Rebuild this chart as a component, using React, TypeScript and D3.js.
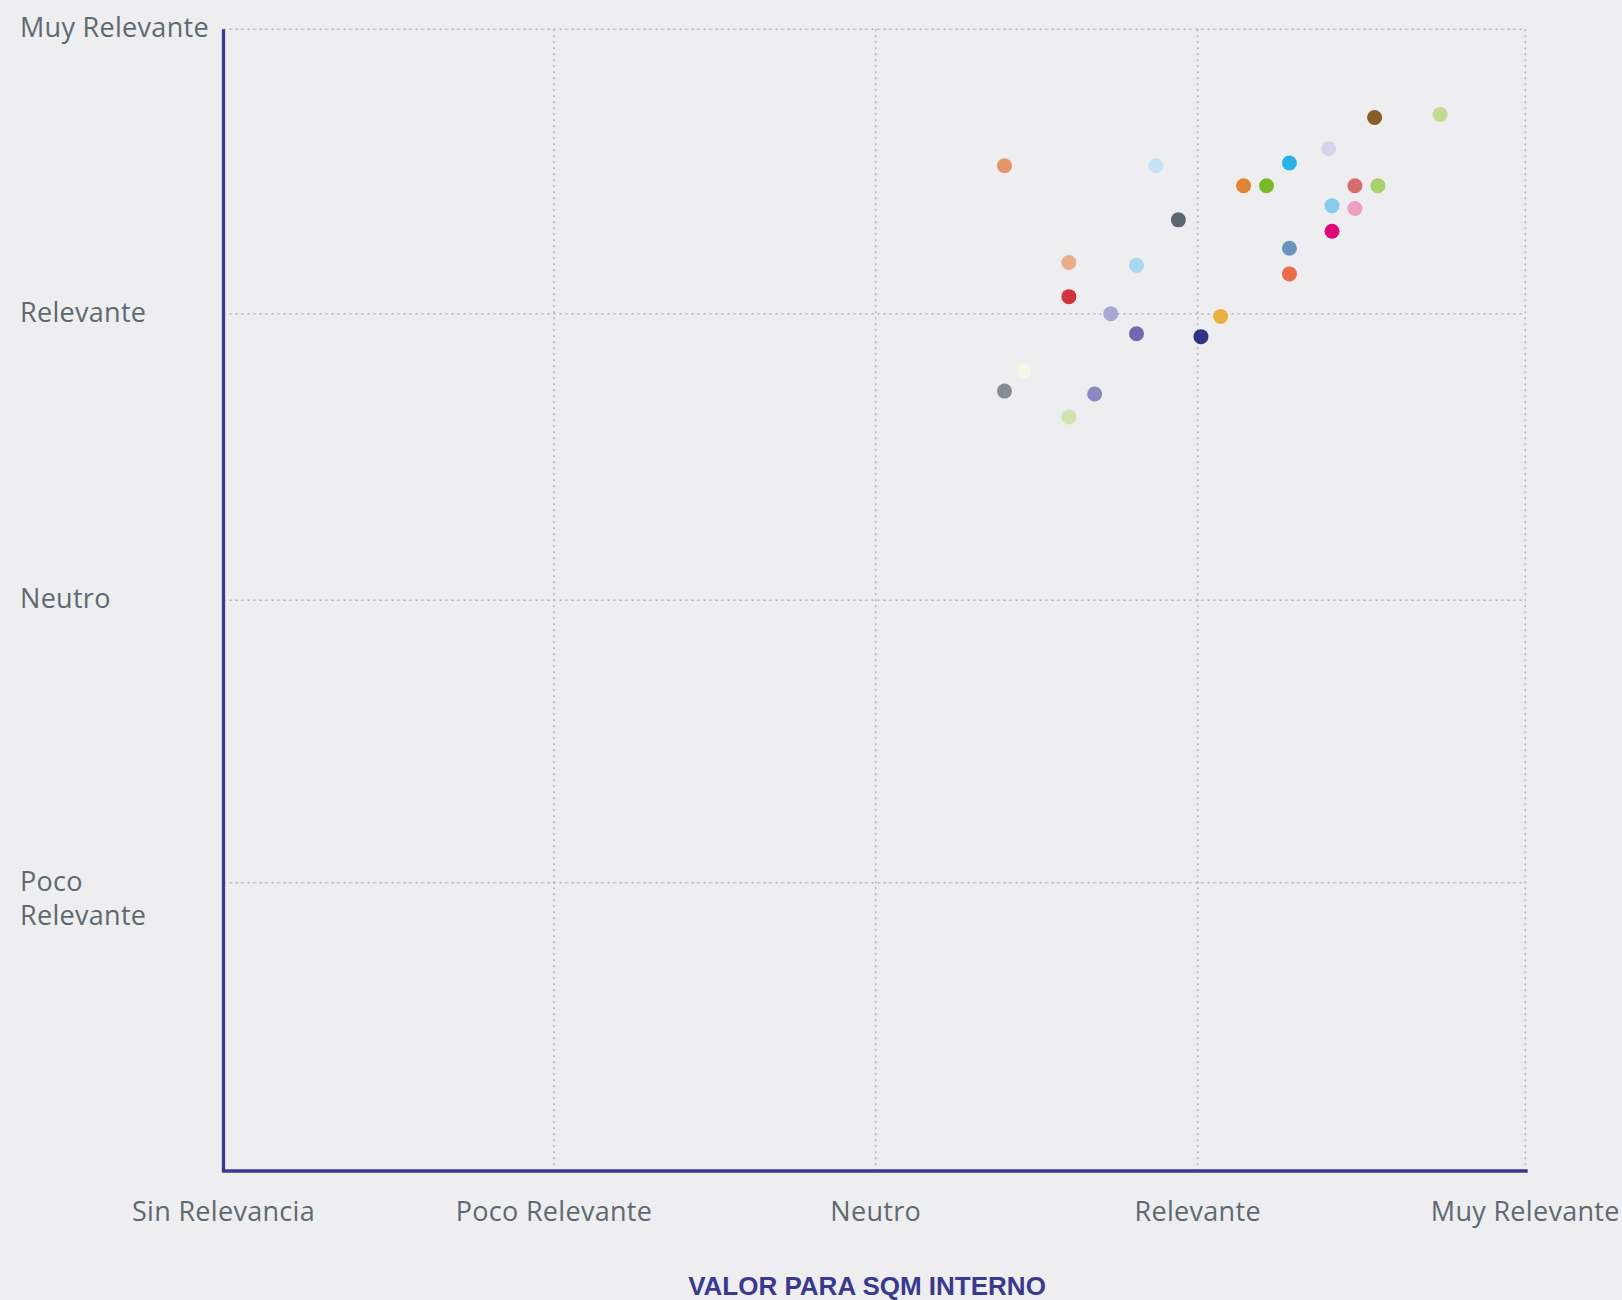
import { FC } from 'react';
import * as d3 from 'd3';

// escala 0..4 en ambos ejes
const xTickLabels = ['Sin Relevancia', 'Poco Relevante', 'Neutro', 'Relevante', 'Muy Relevante'];
const yTickLabels = [[], ['Poco', 'Relevante'], ['Neutro'], ['Relevante'], ['Muy Relevante']];

const xTitle = 'VALOR PARA SQM INTERNO';

// cada punto: valor interno (x), valor externo (y), color
const xValues = [
  2.4, 2.87, 3.14, 3.21, 3.28, 3.4, 3.54, 3.74, 3.48, 3.55, 3.41, 3.48, 3.41, 3.28,
  3.28, 2.94, 2.6, 2.81, 2.6, 2.73, 3.07, 2.81, 3.01, 2.46, 2.4, 2.68, 2.6,
];
const yValues = [
  3.52, 3.52, 3.45, 3.45, 3.53, 3.58, 3.69, 3.7, 3.45, 3.45, 3.38, 3.37, 3.29, 3.23,
  3.14, 3.33, 3.18, 3.17, 3.06, 3.0, 2.99, 2.93, 2.92, 2.8, 2.73, 2.72, 2.64,
];
const pointColors = [
  '#e4956a', '#c5e3f5', '#e08334', '#78b82a', '#29b2e5', '#d6d3ea', '#855e28', '#c2dc94',
  '#d66c6c', '#a9cf6e', '#89cbec', '#ee9fc0', '#dd0a77', '#6a93bb', '#ec6b49', '#5b6670',
  '#e8ae8e', '#a8d8f2', '#d2333c', '#a9a5d5', '#ebb042', '#6f69ae', '#313188', '#f5f7e9',
  '#878c94', '#8b87c2', '#d2e3b1',
];

const W = 1622;
const H = 1300;
const ticks = [0, 1, 2, 3, 4];

const App: FC = () => {
  // las columnas del original no son del todo regulares
  const x = d3.scaleLinear().domain(ticks).range([223.5, 554, 875.7, 1197.7, 1525.3]);
  const y = d3.scaleLinear().domain(ticks).range([1171, 882.7, 600.3, 313.7, 29.3]);
  const axisColor = '#393a8d';
  const labelColor = '#5e6970';
  const font = '"Open Sans", sans-serif';
  const fs = 27;

  return (
    <svg
      width={W}
      height={H}
      style={{ position: 'absolute', left: 0, top: 0, background: '#eeeef0' }}
    >
      {/* grid */}
      {ticks.slice(1).map((t) => (
        <line
          key={'h' + t}
          x1={x(0)}
          x2={x(4)}
          y1={y(t)}
          y2={y(t)}
          stroke="#b3b3b6"
          strokeWidth={1.5}
          strokeDasharray="2,4"
        />
      ))}
      {ticks.slice(1).map((t) => (
        <line
          key={'v' + t}
          x1={x(t)}
          x2={x(t)}
          y1={y(4)}
          y2={y(0)}
          stroke="#b3b3b6"
          strokeWidth={1.5}
          strokeDasharray="2,4"
        />
      ))}

      {/* ejes */}
      <line x1={x(0)} x2={x(0)} y1={y(4)} y2={y(0)} stroke={axisColor} strokeWidth={3.3} />
      <line x1={x(0) - 1.6} x2={x(4) + 2.4} y1={y(0)} y2={y(0)} stroke={axisColor} strokeWidth={3.7} />

      {/* etiquetas eje y */}
      {yTickLabels.map((lines, i) => (
        <text
          key={'yl' + i}
          x={20}
          y={y(i) + 8}
          fill={labelColor}
          fontFamily={font}
          fontSize={fs}
          letterSpacing={0.3}
        >
          {lines.map((l, j) => (
            <tspan key={j} x={20} dy={j === 0 ? 0 : 34}>
              {l}
            </tspan>
          ))}
        </text>
      ))}

      {/* etiquetas eje x */}
      {xTickLabels.map((l, i) => (
        <text
          key={'xl' + i}
          x={x(i)}
          y={y(0) + 50}
          textAnchor="middle"
          fill={labelColor}
          fontFamily={font}
          fontSize={fs}
          letterSpacing={0.3}
        >
          {l}
        </text>
      ))}

      <text
        x={867}
        y={1295}
        textAnchor="middle"
        fill={axisColor}
        fontFamily='"Liberation Sans", Arial, sans-serif'
        fontWeight="bold"
        fontSize={26}
      >
        {xTitle}
      </text>

      {/* puntos */}
      {xValues.map((v, i) => (
        <circle key={'p' + i} cx={x(v)} cy={y(yValues[i])} r={7.5} fill={pointColors[i]} />
      ))}
    </svg>
  );
};

export default App;
